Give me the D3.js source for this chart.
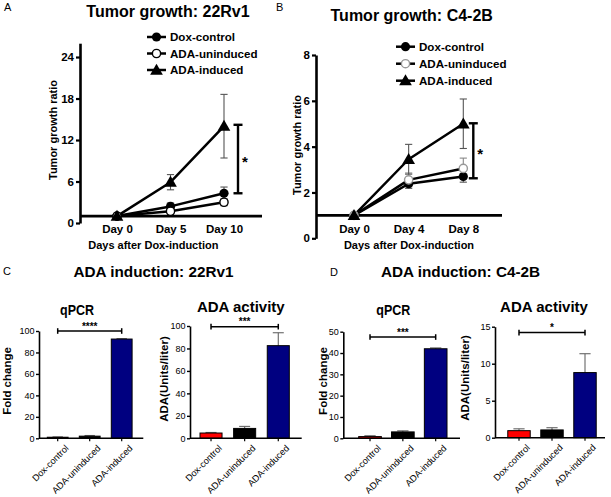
<!DOCTYPE html>
<html><head><meta charset="utf-8">
<script src="https://cdn.jsdelivr.net/npm/d3@7/dist/d3.min.js"></script>
<style>
body{margin:0;background:#fff}
svg{display:block}
text{font-family:"Liberation Sans",Arial,Helvetica,sans-serif}
</style>
</head><body>
<svg id="c" width="611" height="497"></svg>
<script>
// ---------- DATA ----------
const seriesNames = ["Dox-control", "ADA-uninduced", "ADA-induced"];

// Panel A: Tumor growth 22Rv1
const daysA = ["Day 0", "Day 5", "Day 10"];
const doxA = [1, 2.4, 4.3];
const doxAErr = [0, 0.5, 0.9];
const uninA = [1, 1.7, 3.0];
const uninAErr = [0, 0.3, 0.5];
const indA = [1, 5.9, 14.0];
const indAErr = [0, 1.1, 4.6];
const yTicksA = [0, 6, 12, 18, 24];
const sigA = [4.3, 14.2];

// Panel B: Tumor growth C4-2B
const daysB = ["Day 0", "Day 4", "Day 8"];
const doxB = [1, 2.38, 2.7];
const doxBErr = [0, 0.2, 0.25];
const uninB = [1, 2.55, 3.05];
const uninBErr = [0, 0.3, 0.45];
const indB = [1, 3.45, 5.0];
const indBErr = [0, 0.65, 1.08];
const yTicksB = [0, 2, 4, 6, 8];
const sigB = [2.62, 5.02];

// Bar panels
const barCats = ["Dox-control", "ADA-uninduced", "ADA-induced"];
const barColors = ["#ff0000", "#000000", "#000080"];
const qpcr22 = [1.0, 2.0, 92.5];
const qpcr22Err = [0.3, 0.6, 0.4];
const act22 = [4.7, 8.8, 82.5];
const act22Err = [0.5, 1.8, 11.5];
const qpcrC4 = [0.8, 3.0, 42.0];
const qpcrC4Err = [0.4, 0.5, 0.4];
const actC4 = [0.95, 1.05, 8.8];
const actC4Err = [0.25, 0.3, 2.55];
const ticks100 = [0, 20, 40, 60, 80, 100];
const ticks50 = [0, 10, 20, 30, 40, 50];
const ticks15 = [0, 5, 10, 15];

// ---------- DRAW ----------
const svg = d3.select("#c");

function txt(x, y, s, size, weight, anchor, rot) {
  const t = svg.append("text").attr("x", x).attr("y", y).text(s)
    .attr("font-size", size).attr("font-weight", weight || "normal")
    .attr("text-anchor", anchor || "start").attr("fill", "#000");
  if (rot) t.attr("transform", `rotate(${rot},${x},${y})`);
  return t;
}

function marker(g, type, cx, cy, stroke) {
  if (type === "filled") {
    g.append("circle").attr("cx", cx).attr("cy", cy).attr("r", 4.6).attr("fill", "#000");
  } else if (type === "open") {
    g.append("circle").attr("cx", cx).attr("cy", cy).attr("r", 4.1)
      .attr("fill", "#fff").attr("stroke", stroke || "#000").attr("stroke-width", 1.4);
  } else {
    g.append("path").attr("d", d3.symbol(d3.symbolTriangle, 70)())
      .attr("transform", `translate(${cx},${cy + 1})`).attr("fill", "#000");
  }
}

function drawLine(o) {
  const x = d3.scalePoint().domain(o.days).range(o.xr);
  const y = d3.scaleLinear().domain(o.yd).range(o.yr);
  const g = svg.append("g");
  const ya = g.append("g").attr("transform", `translate(${o.ax},0)`)
    .call(d3.axisLeft(y).tickValues(o.ticks).tickSize(4).tickSizeOuter(0).tickPadding(2));
  ya.select(".domain").attr("stroke-width", 2.6);
  ya.selectAll(".tick line").attr("stroke-width", 2.2);
  ya.selectAll("text").attr("font-size", 11.5).attr("font-weight", "bold").attr("fill", "#000");
  // baseline at ratio 1
  g.append("line").attr("x1", o.ax).attr("x2", o.xEnd).attr("y1", y(1)).attr("y2", y(1))
    .attr("stroke", "#000").attr("stroke-width", 2.6);
  const xa = g.append("g").attr("transform", `translate(0,${y(1)})`)
    .call(d3.axisBottom(x).tickSize(0).tickPadding(9.2));
  xa.select(".domain").remove();
  xa.selectAll("text").attr("font-size", 11.5).attr("font-weight", "bold").attr("fill", "#000");

  // error bars
  o.series.forEach(s => {
    s.vals.forEach((v, i) => {
      const e = s.errs[i];
      if (!e) return;
      const cx = x(o.days[i]);
      const eg = g.append("g").attr("stroke", s.errColor || "#555").attr("stroke-width", 1.1);
      eg.append("line").attr("x1", cx).attr("x2", cx).attr("y1", y(v - e)).attr("y2", y(v + e));
      eg.append("line").attr("x1", cx - 3.6).attr("x2", cx + 3.6).attr("y1", y(v - e)).attr("y2", y(v - e));
      eg.append("line").attr("x1", cx - 3.6).attr("x2", cx + 3.6).attr("y1", y(v + e)).attr("y2", y(v + e));
    });
  });
  const line = d3.line().x((d, i) => x(o.days[i])).y(d => y(d));
  o.series.forEach(s => {
    g.append("path").datum(s.vals).attr("d", line).attr("fill", "none")
      .attr("stroke", "#000").attr("stroke-width", 2.5).attr("stroke-linejoin", "round");
  });
  o.series.forEach(s => {
    s.vals.forEach((v, i) => marker(g, s.type, x(o.days[i]), y(v), s.mstroke));
  });
  // significance bracket
  const sx = o.sigX;
  const sg = g.append("g").attr("stroke", "#000").attr("stroke-width", 2.4);
  sg.append("line").attr("x1", sx).attr("x2", sx).attr("y1", y(o.sig[0])).attr("y2", y(o.sig[1]));
  sg.append("line").attr("x1", sx - 4.5).attr("x2", sx + 4.5).attr("y1", y(o.sig[0])).attr("y2", y(o.sig[0]));
  sg.append("line").attr("x1", sx - 4.5).attr("x2", sx + 4.5).attr("y1", y(o.sig[1])).attr("y2", y(o.sig[1]));
  txt(sx + 4, (y(o.sig[0]) + y(o.sig[1])) / 2 + 8, "*", 15, "bold", "start");

  // legend
  o.series.forEach((s, i) => {
    const ly = o.leg[1] + i * o.leg[3];
    g.append("line").attr("x1", o.leg[0]).attr("x2", o.leg[0] + 19).attr("y1", ly).attr("y2", ly)
      .attr("stroke", "#000").attr("stroke-width", 2.5);
    marker(g, s.type, o.leg[0] + 9.5, ly, s.mstroke);
    txt(o.leg[2], ly + 4.2, s.name, 11.6, "bold", "start");
  });
}

drawLine({
  days: daysA, xr: [117, 224], yd: [0, 26], yr: [223, 43.2], ticks: yTicksA,
  ax: 80, xEnd: 262, sig: sigA, sigX: 238,
  leg: [147, 37, 170, 16.5],
  series: [
    { name: seriesNames[0], vals: doxA, errs: doxAErr, type: "filled" },
    { name: seriesNames[1], vals: uninA, errs: uninAErr, type: "open" },
    { name: seriesNames[2], vals: indA, errs: indAErr, type: "tri" }
  ]
});
drawLine({
  days: daysB, xr: [354, 463.3], yd: [0, 8], yr: [238.3, 55], ticks: yTicksB,
  ax: 316, xEnd: 502, sig: sigB, sigX: 473.3,
  leg: [396, 46.7, 419, 17],
  series: [
    { name: seriesNames[0], vals: doxB, errs: doxBErr, type: "filled" },
    { name: seriesNames[1], vals: uninB, errs: uninBErr, type: "open", mstroke: "#999", errColor: "#888" },
    { name: seriesNames[2], vals: indB, errs: indBErr, type: "tri" }
  ]
});

// top titles & labels
txt(4, 11, "A", 11, "normal");
txt(276, 11, "B", 11, "normal");
txt(168, 17, "Tumor growth: 22Rv1", 16, "bold", "middle");
txt(411.7, 20.5, "Tumor growth: C4-2B", 16, "bold", "middle");
txt(153.3, 249, "Days after Dox-induction", 11, "bold", "middle");
txt(409, 249, "Days after Dox-induction", 11, "bold", "middle");
txt(56.5, 130, "Tumor growth ratio", 11, "bold", "middle", -90);
txt(300.5, 145, "Tumor growth ratio", 11, "bold", "middle", -90);

function drawBar(o) {
  const x = d3.scaleBand().domain(barCats).range(o.br).paddingInner(o.pad).paddingOuter(o.pad / 2);
  const y = d3.scaleLinear().domain(o.yd).range(o.yr);
  const g = svg.append("g");
  const bw = x.bandwidth();
  // bars
  o.vals.forEach((v, i) => {
    const c = barCats[i];
    const e = o.errs[i];
    const cx = x(c) + bw / 2;
    const eg = g.append("g").attr("stroke", "#666").attr("stroke-width", 1.1);
    eg.append("line").attr("x1", cx).attr("x2", cx).attr("y1", y(v)).attr("y2", y(v + e));
    eg.append("line").attr("x1", cx - bw / 4).attr("x2", cx + bw / 4).attr("y1", y(v + e)).attr("y2", y(v + e));
    g.append("rect").attr("x", x(c)).attr("y", y(v)).attr("width", bw).attr("height", y(0) - y(v))
      .attr("fill", barColors[i]).attr("stroke", "#000").attr("stroke-width", 1);
  });
  const ya = g.append("g").attr("transform", `translate(${o.ax},0)`)
    .call(d3.axisLeft(y).tickValues(o.ticks).tickSize(3).tickSizeOuter(0).tickPadding(1.5));
  ya.select(".domain").attr("stroke-width", 1.6);
  ya.selectAll(".tick line").attr("stroke-width", 1.4);
  ya.selectAll("text").attr("font-size", 9).attr("fill", "#000");
  const xa = g.append("g").attr("transform", `translate(0,${y(0)})`)
    .call(d3.axisBottom(x).tickSize(3).tickSizeOuter(0));
  xa.select(".domain").attr("d", `M${o.ax},0H${o.xEnd}`).attr("stroke-width", 1.6);
  xa.selectAll(".tick line").attr("stroke-width", 1.2);
  xa.selectAll("text").attr("font-size", 9.2).attr("fill", "#000")
    .attr("text-anchor", "end").attr("dy", "0.5em")
    .attr("transform", "translate(4,3) rotate(-45)");
  // significance bracket
  const x1 = x(barCats[0]) + bw / 2, x2 = x(barCats[2]) + bw / 2, sy = y(o.sig);
  const sg = g.append("g").attr("stroke", "#000").attr("stroke-width", 1.5);
  sg.append("line").attr("x1", x1).attr("x2", x2).attr("y1", sy).attr("y2", sy);
  sg.append("line").attr("x1", x1).attr("x2", x1).attr("y1", sy - 2.8).attr("y2", sy + 2.8);
  sg.append("line").attr("x1", x2).attr("x2", x2).attr("y1", sy - 2.8).attr("y2", sy + 2.8);
  txt((x1 + x2) / 2, sy - 1.5, o.sigLabel, 10, "bold", "middle");
  // titles
  const st = txt(o.sub[0], o.sub[1], o.subText, o.subSize || 15, "bold", "middle");
  if (o.subLen) st.attr("textLength", o.subLen).attr("lengthAdjust", "spacingAndGlyphs");
  txt(o.yt[0], o.yt[1], o.ytText, 11.5, "bold", "middle", -90);
}

drawBar({ vals: qpcr22, errs: qpcr22Err, yd: [0, 100], yr: [438.3, 331], ticks: ticks100,
  ax: 39, xEnd: 143.3, br: [41.7, 137.7], pad: 0.35, sig: 100, sigLabel: "****",
  sub: [77, 315], subText: "qPCR", subSize: 14.5, subLen: 34, yt: [10.5, 381], ytText: "Fold change" });
drawBar({ vals: act22, errs: act22Err, yd: [0, 100], yr: [438.3, 326], ticks: ticks100,
  ax: 190, xEnd: 301.7, br: [194.2, 295.1], pad: 0.345, sig: 99.4, sigLabel: "***",
  sub: [240.8, 312], subText: "ADA activity", yt: [167.5, 379], ytText: "ADA(Units/liter)" });
drawBar({ vals: qpcrC4, errs: qpcrC4Err, yd: [0, 50], yr: [438.3, 331.7], ticks: ticks50,
  ax: 343.3, xEnd: 460, br: [353.6, 452.1], pad: 0.31, sig: 47.5, sigLabel: "***",
  sub: [393.3, 315], subText: "qPCR", subSize: 14.5, subLen: 34, yt: [326.5, 381], ytText: "Fold change" });
drawBar({ vals: actC4, errs: actC4Err, yd: [0, 15], yr: [437.7, 326.7], ticks: ticks15,
  ax: 495, xEnd: 605, br: [502.5, 601.5], pad: 0.32, sig: 14.2, sigLabel: "*",
  sub: [544, 311.7], subText: "ADA activity", yt: [468.5, 378], ytText: "ADA(Units/liter)" });

txt(3, 275, "C", 11, "normal");
txt(330, 276, "D", 11, "normal");
txt(153.5, 276.7, "ADA induction: 22Rv1", 15.3, "bold", "middle");
txt(460.5, 277, "ADA induction: C4-2B", 15.3, "bold", "middle");
</script>
</body></html>
